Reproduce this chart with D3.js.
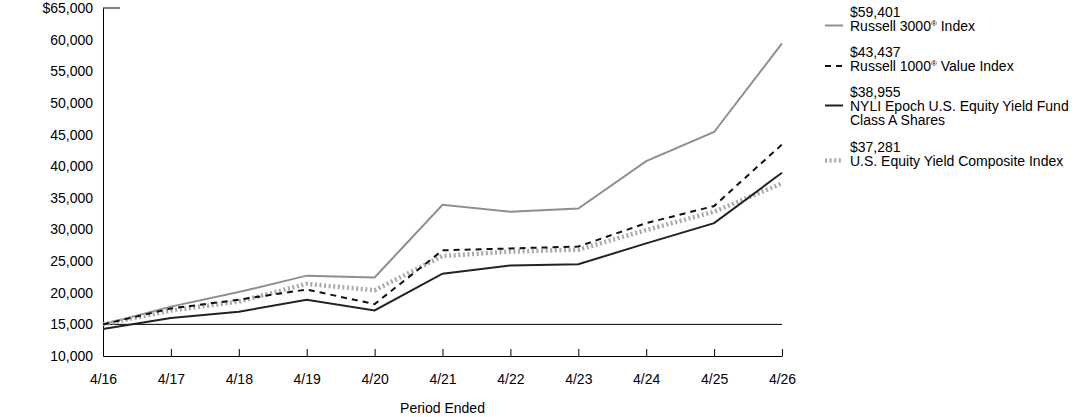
<!DOCTYPE html>
<html>
<head>
<meta charset="utf-8">
<script src="https://cdn.jsdelivr.net/npm/d3@7"></script>
<style>
  body { margin: 0; background: #fff; }
  svg { font-family: "Liberation Sans", Arial, sans-serif; }
</style>
</head>
<body>
<div id="chart"></div>
<script>
// Period labels
const periods = ["4/16", "4/17", "4/18", "4/19", "4/20", "4/21", "4/22", "4/23", "4/24", "4/25", "4/26"];

// Series values
const russell3000 = [15000, 17800, 20100, 22700, 22400, 33900, 32800, 33300, 40800, 45400, 59401];
const russell1000Value = [15000, 17500, 18900, 20500, 18200, 26700, 27000, 27300, 31000, 33700, 43437];
const fundClassA = [14250, 16000, 17000, 18900, 17200, 23000, 24300, 24500, 27800, 31000, 38955];
const composite = [15000, 17200, 18600, 21400, 20400, 25800, 26500, 26800, 29900, 32800, 37281];

const yTicks = [10000, 15000, 20000, 25000, 30000, 35000, 40000, 45000, 50000, 55000, 60000, 65000];

const W = 1092, H = 417;
const plotLeft = 103, plotRight = 782, plotTop = 8, plotBottom = 356;
const fontSize = "14px";

const svg = d3.select("#chart").append("svg")
    .attr("width", W)
    .attr("height", H);

const x = d3.scalePoint().domain(periods).range([plotLeft, plotRight]);
const y = d3.scaleLinear().domain([10000, 65000]).range([plotBottom, plotTop]);

// y axis labels (no ticks)
const yAxis = d3.axisLeft(y)
    .tickValues(yTicks)
    .tickSize(0)
    .tickPadding(10)
    .tickFormat(d => d === 65000 ? "$65,000" : d3.format(",")(d));

svg.append("g")
    .attr("transform", `translate(${plotLeft},0)`)
    .call(yAxis)
    .call(g => g.select(".domain").attr("stroke", "#000").attr("stroke-width", 1))
    .call(g => g.selectAll("text").attr("font-size", fontSize).attr("fill", "#000")
        .attr("font-family", "Liberation Sans, Arial, sans-serif"));

// short tick at the top of the y axis
svg.append("line")
    .attr("x1", plotLeft).attr("x2", plotLeft + 17)
    .attr("y1", y(65000)).attr("y2", y(65000))
    .attr("stroke", "#000");

// x axis with ticks pointing up
const xAxis = d3.axisBottom(x)
    .tickSizeInner(-7)
    .tickSizeOuter(0)
    .tickPadding(18);

svg.append("g")
    .attr("transform", `translate(0,${plotBottom})`)
    .call(xAxis)
    .call(g => g.select(".domain").attr("stroke", "#000"))
    .call(g => g.selectAll(".tick line").attr("stroke", "#000"))
    .call(g => g.selectAll("text").attr("font-size", fontSize).attr("fill", "#000")
        .attr("font-family", "Liberation Sans, Arial, sans-serif"));

svg.append("text")
    .attr("x", (plotLeft + plotRight) / 2)
    .attr("y", 413)
    .attr("text-anchor", "middle")
    .attr("font-size", fontSize)
    .text("Period Ended");

// reference line at the starting value
svg.append("line")
    .attr("x1", plotLeft).attr("x2", plotRight)
    .attr("y1", y(15000)).attr("y2", y(15000))
    .attr("stroke", "#000")
    .attr("stroke-width", 1);

const line = d3.line()
    .x((d, i) => x(periods[i]))
    .y(d => y(d));

const series = [
    { values: russell3000, color: "#8f8f8f", width: 2, dash: null, value: "$59,401",
      label: ["Russell 3000\u00AE Index"], ly: 16.5 },
    { values: composite, color: "#a9a9a9", width: 4.5, dash: "2,2.6", value: "$37,281",
      label: ["U.S. Equity Yield Composite Index"], ly: 151.5 },
    { values: russell1000Value, color: "#111", width: 2, dash: "6,5", value: "$43,437",
      label: ["Russell 1000\u00AE Value Index"], ly: 57 },
    { values: fundClassA, color: "#222", width: 2, dash: null, value: "$38,955",
      label: ["NYLI Epoch U.S. Equity Yield Fund", "Class A Shares"], ly: 96.5 }
];

series.forEach(s => {
    svg.append("path")
        .datum(s.values)
        .attr("fill", "none")
        .attr("stroke", s.color)
        .attr("stroke-width", s.width)
        .attr("stroke-dasharray", s.dash)
        .attr("d", line);
});

// legend
const legend = svg.append("g");
series.forEach(s => {
    legend.append("text")
        .attr("x", 850).attr("y", s.ly)
        .attr("font-size", fontSize)
        .text(s.value);
    s.label.forEach((t, j) => {
        const tx = legend.append("text")
            .attr("x", 850).attr("y", s.ly + 14 + j * 14)
            .attr("font-size", fontSize);
        if (t.includes("\u00AE")) {
            const parts = t.split("\u00AE");
            tx.append("tspan").text(parts[0]);
            tx.append("tspan").attr("font-size", "8px").attr("dy", -5).text("\u00AE");
            tx.append("tspan").attr("dy", 5).text(parts[1]);
        } else {
            tx.text(t);
        }
    });
    legend.append("line")
        .attr("x1", 825).attr("x2", 843)
        .attr("y1", s.ly + 9).attr("y2", s.ly + 9)
        .attr("stroke", s.color)
        .attr("stroke-width", s.width)
        .attr("stroke-dasharray", s.dash);
});
</script>
</body>
</html>
